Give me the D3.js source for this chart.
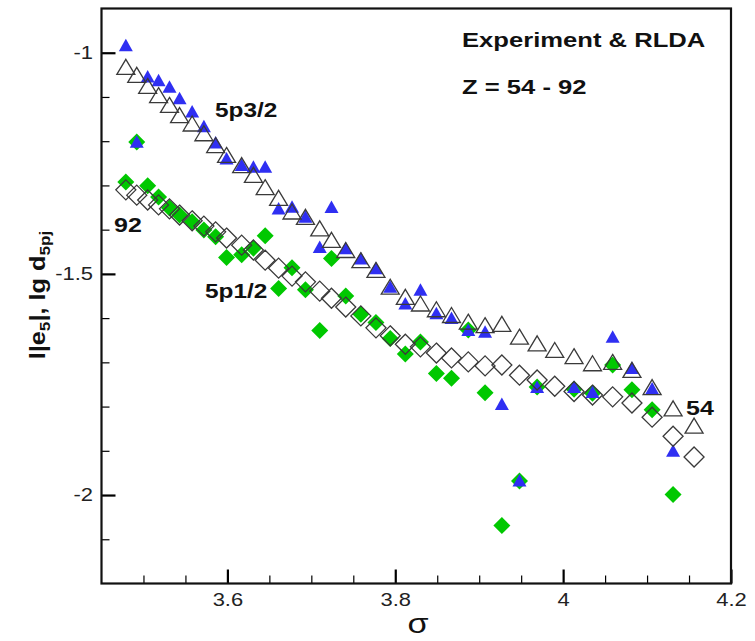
<!DOCTYPE html>
<html>
<head>
<meta charset="utf-8">
<script src="https://cdn.jsdelivr.net/npm/d3@7"></script>
<style>
  body { margin: 0; background: #fff; }
  text { font-family: "Liberation Sans", Arial, sans-serif; }
</style>
</head>
<body>
<svg id="chart" width="755" height="641"></svg>
<script>
// sigma for Z = 92 ... 54 (one entry per element)
const sigma = [3.479, 3.492, 3.505, 3.518, 3.531, 3.543, 3.558, 3.572, 3.586, 3.599,
               3.617, 3.631, 3.645, 3.661, 3.677, 3.693, 3.710, 3.724, 3.741, 3.759,
               3.777, 3.794, 3.812, 3.830, 3.849, 3.867, 3.887, 3.907, 3.927, 3.948,
               3.969, 3.990, 4.013, 4.035, 4.059, 4.082, 4.106, 4.131, 4.156];

// RLDA, 5p3/2 (open triangles)
const rlda32 = [-1.032, -1.050, -1.075, -1.096, -1.118, -1.141, -1.160, -1.182, -1.209, -1.231,
                -1.254, -1.276, -1.304, -1.328, -1.359, -1.371, -1.397, -1.423, -1.446, -1.469,
                -1.491, -1.529, -1.552, -1.567, -1.580, -1.593, -1.608, -1.616, -1.613, -1.642,
                -1.657, -1.672, -1.686, -1.702, -1.699, -1.717, -1.756, -1.804, -1.843];

// RLDA, 5p1/2 (open diamonds)
const rlda12 = [-1.310, -1.322, -1.333, -1.344, -1.353, -1.367, -1.380, -1.392, -1.405, -1.419,
                -1.435, -1.446, -1.469, -1.487, -1.505, -1.518, -1.539, -1.555, -1.575, -1.595,
                -1.622, -1.640, -1.659, -1.665, -1.679, -1.690, -1.699, -1.708, -1.706, -1.729,
                -1.740, -1.754, -1.766, -1.774, -1.778, -1.792, -1.824, -1.867, -1.914];

// experiment, 5p3/2 (blue triangles), null = no data
const exp32 = [-0.983, -1.201, -1.054, -1.062, -1.077, -1.103, -1.133, -1.166, -1.203, -1.239,
               -1.254, -1.258, -1.258, -1.352, -1.348, -1.371, -1.439, -1.349, -1.442, -1.465,
               -1.487, -1.529, -1.567, -1.536, -1.589, -1.600, -1.627, -1.631, -1.794, -1.967,
               -1.756, null, -1.756, -1.767, -1.642, -1.713, -1.759, -1.900, null];

// experiment, 5p1/2 (green diamonds)
const exp12 = [-1.292, -1.202, -1.301, -1.326, -1.351, -1.367, -1.382, -1.401, -1.416, -1.463,
               -1.457, -1.442, -1.414, -1.533, -1.486, -1.536, -1.628, -1.465, -1.550, -1.591,
               -1.610, -1.646, -1.681, -1.654, -1.725, -1.736, -1.627, -1.769, -2.069, -1.968,
               -1.756, null, -1.761, -1.770, -1.706, -1.762, -1.807, -1.999, null];

const xMajor = [3.6, 3.8, 4, 4.2];
const xMinor = [3.5, 3.55, 3.65, 3.7, 3.75, 3.85, 3.9, 3.95, 4.05, 4.1, 4.15];
const yMajor = [-1, -1.5, -2];
const yMinor = [-1.1, -1.2, -1.3, -1.4, -1.6, -1.7, -1.8, -1.9, -2.1];

const SX = 1.22; // the original's text is a little wide
const svg = d3.select("#chart");
svg.append("rect").attr("width", 755).attr("height", 641).attr("fill", "#fff");

const frame = { left: 101.5, right: 731, top: 8.5, bottom: 583.5 };
const x = d3.scaleLinear().domain([3.45, 4.2]).range([frame.left, frame.right]);
const y = d3.scaleLinear().domain([-2.2, -0.9]).range([frame.bottom, frame.top]);

// axes: ticks point inward
const fmt = d => String(d);
const gx = svg.append("g").attr("transform", "translate(0," + frame.bottom + ")");
gx.append("g").call(d3.axisBottom(x).tickValues(xMinor).tickSize(-8).tickFormat(""))
  .selectAll("line").attr("stroke-width", 1.2);
gx.append("g").call(d3.axisBottom(x).tickValues(xMajor).tickSize(-14).tickPadding(10).tickFormat(fmt))
  .call(g => g.selectAll("line").attr("stroke-width", 2.2))
  .call(g => g.selectAll("text").attr("font-size", 18).attr("fill", "#222")
    .attr("transform", "scale(" + SX + ",1)"));

const gy = svg.append("g").attr("transform", "translate(" + frame.left + ",0)");
gy.append("g").call(d3.axisLeft(y).tickValues(yMinor).tickSize(-8).tickFormat(""))
  .selectAll("line").attr("stroke-width", 1.2);
gy.append("g").call(d3.axisLeft(y).tickValues(yMajor).tickSize(-14).tickFormat(fmt))
  .call(g => g.selectAll("line").attr("stroke-width", 2.2))
  .call(g => g.selectAll("text").attr("font-size", 18).attr("fill", "#222")
    .attr("x", -8.5 / SX).attr("transform", "scale(" + SX + ",1)"));
svg.selectAll(".domain").remove();

// markers
const pts = arr => sigma.map((s, i) => ({ s: s, v: arr[i] })).filter(d => d.v != null);
function drawSeries(arr, shape, fill, stroke) {
  svg.append("g").selectAll("path")
    .data(pts(arr))
    .enter().append("path")
    .attr("transform", d => "translate(" + x(d.s) + "," + y(d.v) + ")")
    .attr("d", shape)
    .attr("fill", fill)
    .attr("stroke", stroke)
    .attr("stroke-width", 1.3);
}
drawSeries(exp12, "M0,-8.5L8.5,0L0,8.5L-8.5,0Z", "#00c800", "none");
drawSeries(exp32, "M0,-6.5L7,6L-7,6Z", "#2f2ff2", "none");
drawSeries(rlda12, "M0,-10L10,0L0,10L-10,0Z", "none", "#3a3a3a");
drawSeries(rlda32, "M0,-7.5L9,7.5L-9,7.5Z", "none", "#3a3a3a");

svg.append("rect")
  .attr("x", frame.left).attr("y", frame.top)
  .attr("width", frame.right - frame.left).attr("height", frame.bottom - frame.top)
  .attr("fill", "none").attr("stroke", "#111").attr("stroke-width", 2.2);

// annotations
function note(txt, px, py, size) {
  svg.append("text")
    .attr("transform", "translate(" + px + "," + py + ") scale(" + SX + ",1)")
    .attr("font-size", size).attr("font-weight", "bold").attr("fill", "#111")
    .text(txt);
}
note("Experiment & RLDA", 462, 47, 21);
note("Z = 54 - 92", 462, 94, 21);
note("5p3/2", 215, 117, 20);
note("92", 114, 232, 20.5);
note("5p1/2", 205, 298, 20);
note("54", 686, 415, 20.5);

// axis titles
svg.append("text")
  .attr("transform", "translate(418,633) scale(" + SX + ",1)")
  .attr("text-anchor", "middle").attr("font-size", 28).attr("fill", "#111")
  .text("σ");

const yl = svg.append("text")
  .attr("transform", "translate(45,295) rotate(-90) scale(1.15,1)")
  .attr("text-anchor", "middle").attr("font-size", 22).attr("font-weight", "bold").attr("fill", "#111");
yl.append("tspan").text("l|e");
yl.append("tspan").attr("font-size", 15).attr("dy", 5).text("5");
yl.append("tspan").attr("dy", -5).text("|, lg d");
yl.append("tspan").attr("font-size", 15).attr("dy", 5).text("5pj");
</script>
</body>
</html>
